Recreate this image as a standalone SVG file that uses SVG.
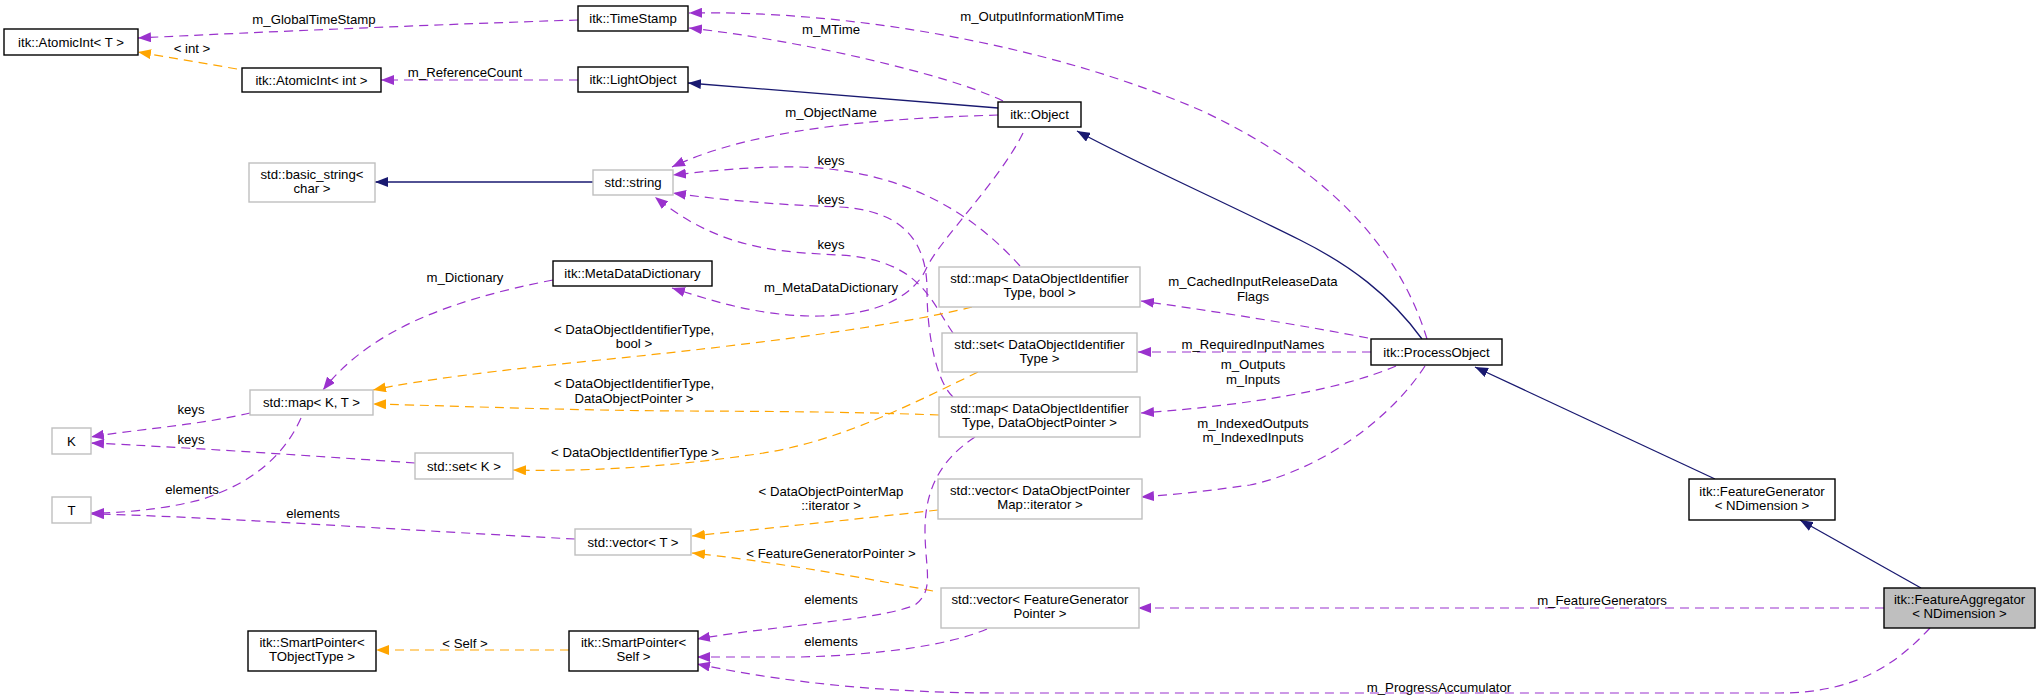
<svg xmlns="http://www.w3.org/2000/svg" width="2040" height="700" viewBox="0 0 2040 700">
<style>
text{font-family:"Liberation Sans",Arial,sans-serif;font-size:13.2px;fill:#000;text-anchor:middle}
.nb{fill:#fff;stroke:#000;stroke-width:1.4}
.ng{fill:#fff;stroke:#bfbfbf;stroke-width:1.4}
.nf{fill:#bfbfbf;stroke:#000;stroke-width:1.4}
.p{fill:none;stroke:#9a32cd;stroke-width:1.2;stroke-dasharray:9,6;marker-end:url(#ap)}
.o{fill:none;stroke:#ffa500;stroke-width:1.2;stroke-dasharray:9,6;marker-end:url(#ao)}
.n{fill:none;stroke:#191970;stroke-width:1.3;marker-end:url(#an)}
</style>
<defs>
<marker id="ap" markerUnits="userSpaceOnUse" markerWidth="13" markerHeight="10" viewBox="0 0 13 10" refX="13" refY="5" orient="auto"><path d="M0,0L13,5L0,10z" fill="#9a32cd"/></marker>
<marker id="ao" markerUnits="userSpaceOnUse" markerWidth="13" markerHeight="10" viewBox="0 0 13 10" refX="13" refY="5" orient="auto"><path d="M0,0L13,5L0,10z" fill="#ffa500"/></marker>
<marker id="an" markerUnits="userSpaceOnUse" markerWidth="13" markerHeight="10" viewBox="0 0 13 10" refX="13" refY="5" orient="auto"><path d="M0,0L13,5L0,10z" fill="#191970"/></marker>
</defs>
<rect width="2040" height="700" fill="#fff"/>
<g id="connectors">
<path class="p" d="M578,20 C450,24 260,32 138,38"/>
<text x="314" y="24">m_GlobalTimeStamp</text>
<path class="o" d="M237,69 L138,52"/>
<text x="192" y="53">&lt; int &gt;</text>
<path class="p" d="M578,80 L381,80"/>
<text x="465" y="77">m_ReferenceCount</text>
<path class="n" d="M998,108 L688,83"/>
<path class="p" d="M1003,101 C950,75 800,40 689,28"/>
<text x="831" y="34">m_MTime</text>
<path class="p" d="M1427,339 C1400,250 1330,170 1200,110 C1050,45 850,10 689,13"/>
<text x="1042" y="21">m_OutputInformationMTime</text>
<path class="p" d="M998,115 C900,118 760,125 672,167"/>
<text x="831" y="117">m_ObjectName</text>
<path class="n" d="M593,182 L375,182"/>
<path class="p" d="M1020,266 C970,210 900,170 800,167 C750,166 700,172 673,175"/>
<text x="831" y="165">keys</text>
<path class="p" d="M953,397 C935,380 927,330 927,290 C927,230 890,210 840,207 C780,205 720,200 673,193"/>
<text x="831" y="204">keys</text>
<path class="p" d="M953,333 C930,300 920,260 840,255 C780,252 720,250 655,197"/>
<text x="831" y="249">keys</text>
<path class="p" d="M1023,133 C1000,180 940,240 927,267 C915,295 880,315 820,316 C760,317 710,300 672,288"/>
<text x="831" y="292">m_MetaDataDictionary</text>
<path class="p" d="M553,280 C450,300 370,330 323,390"/>
<text x="465" y="282">m_Dictionary</text>
<path class="o" d="M972,307 C880,330 700,350 600,360 C500,370 420,380 373,390"/>
<text x="634" y="334">&lt; DataObjectIdentifierType,</text>
<text x="634" y="348">bool &gt;</text>
<path class="o" d="M939,415 C800,410 700,412 600,410 C500,408 420,405 373,404"/>
<text x="634" y="388">&lt; DataObjectIdentifierType,</text>
<text x="634" y="403">DataObjectPointer &gt;</text>
<path class="o" d="M978,372 C900,410 830,445 750,455 C680,465 600,472 513,470"/>
<text x="635" y="457">&lt; DataObjectIdentifierType &gt;</text>
<path class="p" d="M415,463 C300,455 180,447 91,443"/>
<text x="191" y="444">keys</text>
<path class="p" d="M250,413 C200,425 130,430 91,437"/>
<text x="191" y="414">keys</text>
<path class="p" d="M301,418 C280,465 240,487 200,500 C160,510 120,513 91,513"/>
<text x="192" y="494">elements</text>
<path class="p" d="M575,539 C400,530 200,516 91,514"/>
<text x="313" y="518">elements</text>
<path class="o" d="M938,510 C850,520 750,530 692,536"/>
<text x="831" y="496">&lt; DataObjectPointerMap</text>
<text x="831" y="510">::iterator &gt;</text>
<path class="o" d="M933,591 C850,575 760,560 692,553"/>
<text x="831" y="558">&lt; FeatureGeneratorPointer &gt;</text>
<path class="p" d="M975,437 C940,460 925,490 925,530 C925,570 935,590 915,605 C880,620 780,625 697,639"/>
<text x="831" y="604">elements</text>
<path class="p" d="M987,629 C950,645 880,655 800,657 L697,657"/>
<text x="831" y="646">elements</text>
<path class="o" d="M569,650 L376,650"/>
<text x="465" y="648">&lt; Self &gt;</text>
<path class="p" d="M1368,338 C1300,325 1220,312 1141,301"/>
<text x="1253" y="286">m_CachedInputReleaseData</text>
<text x="1253" y="301">Flags</text>
<path class="p" d="M1371,352 L1138,352"/>
<text x="1253" y="349">m_RequiredInputNames</text>
<path class="p" d="M1396,366 C1340,390 1250,405 1141,413"/>
<text x="1253" y="369">m_Outputs</text>
<text x="1253" y="384">m_Inputs</text>
<path class="p" d="M1425,366 C1390,420 1320,470 1250,485 C1200,492 1170,495 1141,497"/>
<text x="1253" y="428">m_IndexedOutputs</text>
<text x="1253" y="442">m_IndexedInputs</text>
<path class="p" d="M1884,608 L1138,608"/>
<text x="1602" y="605">m_FeatureGenerators</text>
<path class="p" d="M1930,628 C1900,660 1860,693 1780,693 L1000,693 C850,693 750,675 697,664"/>
<text x="1439" y="692">m_ProgressAccumulator</text>
<path class="n" d="M1422,339 C1390,295 1350,265 1300,240 C1220,200 1130,160 1077,131"/>
<path class="n" d="M1715,479 L1475,367"/>
<path class="n" d="M1921,588 L1800,520"/>
</g>
<g id="n_AtomicInt_T"><rect class="nb" x="4" y="29" width="134" height="26"/><text x="71" y="46.5">itk::AtomicInt&lt; T &gt;</text></g>
<g id="n_TimeStamp"><rect class="nb" x="578" y="6" width="110" height="25"/><text x="633" y="23">itk::TimeStamp</text></g>
<g id="n_AtomicInt_int"><rect class="nb" x="242" y="68" width="139" height="24"/><text x="311.5" y="84.5">itk::AtomicInt&lt; int &gt;</text></g>
<g id="n_LightObject"><rect class="nb" x="578" y="67" width="110" height="25"/><text x="633" y="84">itk::LightObject</text></g>
<g id="n_Object"><rect class="nb" x="998" y="102" width="83" height="25"/><text x="1039.5" y="119">itk::Object</text></g>
<g id="n_basic_string"><rect class="ng" x="249" y="163" width="126" height="39"/><text x="312" y="179">std::basic_string&lt;</text><text x="312" y="193">char &gt;</text></g>
<g id="n_string"><rect class="ng" x="593" y="170" width="80" height="25"/><text x="633" y="187">std::string</text></g>
<g id="n_MetaDataDictionary"><rect class="nb" x="553" y="261" width="159" height="25"/><text x="632.5" y="278">itk::MetaDataDictionary</text></g>
<g id="n_map_bool"><rect class="ng" x="939" y="267" width="201" height="40"/><text x="1039.5" y="283">std::map&lt; DataObjectIdentifier</text><text x="1039.5" y="297">Type, bool &gt;</text></g>
<g id="n_set_DOI"><rect class="ng" x="942" y="333" width="195" height="39"/><text x="1039.5" y="349">std::set&lt; DataObjectIdentifier</text><text x="1039.5" y="363">Type &gt;</text></g>
<g id="n_map_DOP"><rect class="ng" x="939" y="397" width="201" height="40"/><text x="1039.5" y="413">std::map&lt; DataObjectIdentifier</text><text x="1039.5" y="427">Type, DataObjectPointer &gt;</text></g>
<g id="n_ProcessObject"><rect class="nb" x="1371" y="339" width="131" height="26"/><text x="1436.5" y="356.5">itk::ProcessObject</text></g>
<g id="n_map_KT"><rect class="ng" x="250" y="390" width="123" height="25"/><text x="311.5" y="407">std::map&lt; K, T &gt;</text></g>
<g id="n_K"><rect class="ng" x="52" y="428" width="39" height="26"/><text x="71.5" y="445.5">K</text></g>
<g id="n_T"><rect class="ng" x="52" y="497" width="39" height="26"/><text x="71.5" y="514.5">T</text></g>
<g id="n_set_K"><rect class="ng" x="415" y="453" width="98" height="26"/><text x="464" y="470.5">std::set&lt; K &gt;</text></g>
<g id="n_vector_T"><rect class="ng" x="575" y="529" width="116" height="26"/><text x="633" y="546.5">std::vector&lt; T &gt;</text></g>
<g id="n_vector_DOPMap"><rect class="ng" x="938" y="479" width="204" height="40"/><text x="1040" y="495">std::vector&lt; DataObjectPointer</text><text x="1040" y="509">Map::iterator &gt;</text></g>
<g id="n_FeatureGenerator"><rect class="nb" x="1689" y="479" width="146" height="41"/><text x="1762" y="495.5">itk::FeatureGenerator</text><text x="1762" y="510">&lt; NDimension &gt;</text></g>
<g id="n_SmartPointer_TObjectType"><rect class="nb" x="248" y="631" width="128" height="40"/><text x="312" y="647">itk::SmartPointer&lt;</text><text x="312" y="661">TObjectType &gt;</text></g>
<g id="n_SmartPointer_Self"><rect class="nb" x="569" y="631" width="129" height="40"/><text x="633.5" y="647">itk::SmartPointer&lt;</text><text x="633.5" y="661">Self &gt;</text></g>
<g id="n_vector_FGP"><rect class="ng" x="941" y="588" width="198" height="40"/><text x="1040" y="604">std::vector&lt; FeatureGenerator</text><text x="1040" y="618">Pointer &gt;</text></g>
<g id="n_FeatureAggregator"><rect class="nf" x="1884" y="588" width="151" height="40"/><text x="1959.5" y="604">itk::FeatureAggregator</text><text x="1959.5" y="618">&lt; NDimension &gt;</text></g>
</svg>
